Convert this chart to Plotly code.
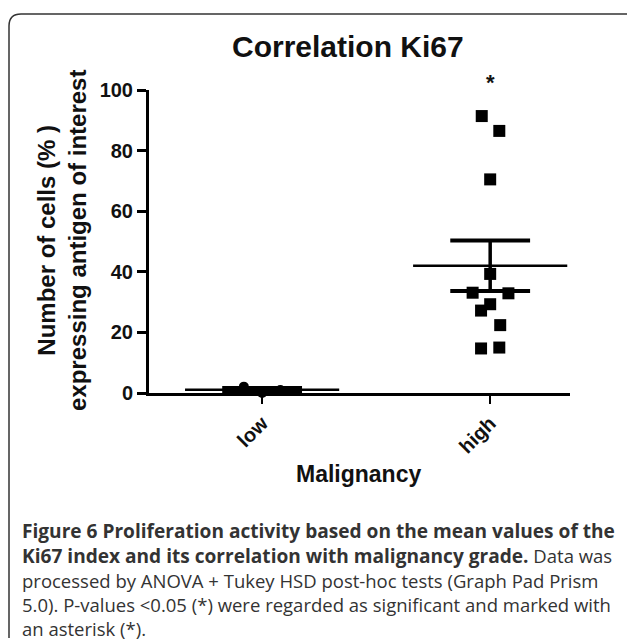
import numpy as np
import plotly.graph_objects as go

# ---------------- data ----------------
categories = ["low", "high"]
cat_pos = [0, 1]
low_values = [2.1, 0.0, 1.0]
low_offsets = [-0.08, 0.0, 0.08]
high_values = [91.4, 86.5, 70.5, 39.3, 33.1, 32.9, 29.3, 27.2, 22.4, 14.7, 15.0]
high_offsets = [-0.037, 0.04, 0.0, 0.0, -0.077, 0.08, 0.0, -0.04, 0.044, -0.04, 0.04]
y_ticks = [0, 20, 40, 60, 80, 100]
y_range = [0, 100]
title_text = "Correlation Ki67"
y_title = "Number of cells (% )<br>expressing antigen of interest"
x_title = "Malignancy"
sig_mark = "*"
sig_y = 102.5
B = '<span style="font-size:19.1px"><b>'
E = '</b></span>'
caption_lines = [
    B + "Figure 6 Proliferation activity based on the mean values of the" + E,
    B + "Ki67 index and its correlation with malignancy grade." + E + " Data was",
    "processed by ANOVA + Tukey HSD post-hoc tests (Graph Pad Prism",
    "5.0). P-values &lt;0.05 (*) were regarded as significant and marked with",
    "an asterisk (*).",
]

W, H = 627, 642
def px(x):
    return x / W
def py(y):
    return 1 - y / H

ydom = [py(393), py(90)]

fig = go.Figure()

groups = [(cat_pos[0], low_values, low_offsets, "circle", 10),
          (cat_pos[1], high_values, high_offsets, "square", 12)]

mean_half = 0.338
cap_half = 0.175
for c, vals, offs, sym, sz in groups:
    fig.add_trace(go.Scatter(
        x=[c + o for o in offs], y=vals, mode="markers",
        marker=dict(symbol=sym, size=sz, color="black", line=dict(width=0)),
        cliponaxis=False, showlegend=False, hoverinfo="skip"))
    v = np.array(vals)
    m = v.mean()
    sem = v.std(ddof=1) / np.sqrt(len(v))
    fig.add_trace(go.Scatter(x=[c - mean_half, c + mean_half], y=[m, m], mode="lines",
                             line=dict(color="black", width=2.5), cliponaxis=False,
                             showlegend=False, hoverinfo="skip"))
    fig.add_trace(go.Scatter(x=[c, c], y=[m - sem, m + sem], mode="lines",
                             line=dict(color="black", width=3.5), cliponaxis=False,
                             showlegend=False, hoverinfo="skip"))
    for yy in (m - sem, m + sem):
        fig.add_trace(go.Scatter(x=[c - cap_half, c + cap_half], y=[yy, yy], mode="lines",
                                 line=dict(color="black", width=4), cliponaxis=False,
                                 showlegend=False, hoverinfo="skip"))

font_main = "Liberation Sans, Arial, sans-serif"

fig.update_layout(
    width=W, height=H, autosize=False,
    margin=dict(l=0, r=0, t=0, b=0, autoexpand=False),
    paper_bgcolor="white", plot_bgcolor="white",
    showlegend=False,
    xaxis=dict(domain=[px(149), px(570)], range=[-0.496, 1.35], automargin=False,
               tickmode="array", tickvals=cat_pos, ticktext=categories,
               tickangle=-45, ticks="outside", ticklen=8, tickwidth=2, tickcolor="black",
               showline=True, linecolor="black", linewidth=2.5,
               showgrid=False, zeroline=False,
               tickfont=dict(family=font_main, size=20, color="#111111", weight="bold")),
    yaxis=dict(domain=ydom, range=y_range, automargin=False,
               tickmode="array", tickvals=y_ticks,
               ticks="outside", ticklen=9, tickwidth=3, tickcolor="black",
               showline=True, linecolor="black", linewidth=3,
               showgrid=False, zeroline=False,
               tickfont=dict(family=font_main, size=20, color="#111111", weight="bold")),
)

sig_paper = ydom[0] + (sig_y - y_range[0]) / (y_range[1] - y_range[0]) * (ydom[1] - ydom[0])

ann = []
ann.append(dict(text="<b>%s</b>" % title_text, xref="paper", yref="paper",
                x=px(348), y=py(46), xanchor="center", yanchor="middle", showarrow=False,
                font=dict(family=font_main, size=30, color="#111111")))
ann.append(dict(text="<b>%s</b>" % y_title, xref="paper", yref="paper",
                x=px(62), y=py(241), xanchor="center", yanchor="middle", showarrow=False,
                textangle=-90,
                font=dict(family=font_main, size=24, color="#111111")))
ann.append(dict(text="<b>%s</b>" % x_title, xref="paper", yref="paper",
                x=px(359), y=py(474), xanchor="center", yanchor="middle", showarrow=False,
                font=dict(family=font_main, size=23, color="#111111")))
ann.append(dict(text="<b>%s</b>" % sig_mark, xref="x", yref="paper",
                x=cat_pos[1], y=sig_paper, xanchor="center", yanchor="middle", showarrow=False,
                font=dict(family=font_main, size=22, color="#111111")))
line_y = [531, 555.5, 580, 604, 628]
for t, yy in zip(caption_lines, line_y):
    ann.append(dict(text=t, xref="paper", yref="paper", x=px(20), y=py(yy),
                    xanchor="left", yanchor="middle", showarrow=False,
                    font=dict(family="Open Sans, sans-serif", size=18.5, color="#333333")))
fig.update_layout(annotations=ann)

x0 = px(9); yt = py(14); r = 12
path = (f"M {x0},{py(638)} L {x0},{py(14 + r)} "
        f"Q {x0},{yt} {px(9 + r)},{yt} L 1.02,{yt}")
fig.add_shape(type="path", path=path, xref="paper", yref="paper",
              line=dict(color="#333333", width=1.5))

fig.write_html("out.html", config={"displayModeBar": False},
               post_script="document.body.style.margin='0px';document.body.style.overflow='hidden';")
